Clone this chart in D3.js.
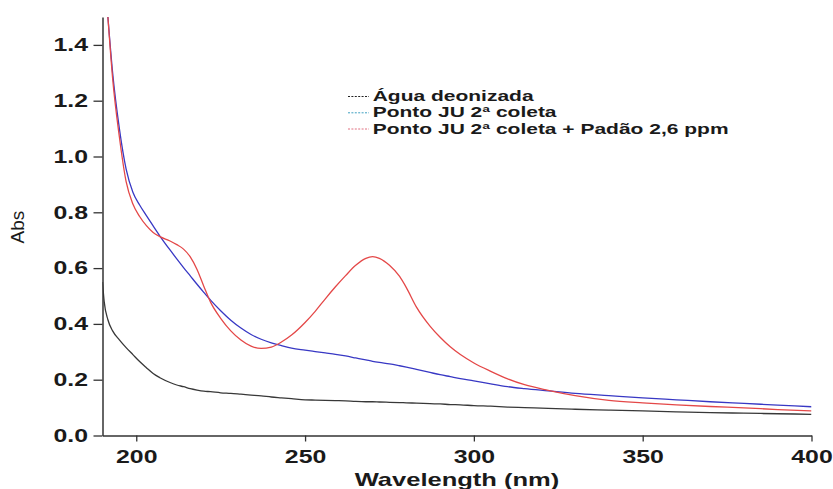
<!DOCTYPE html>
<html>
<head>
<meta charset="utf-8">
<script src="https://cdn.jsdelivr.net/npm/d3@7"></script>
<style>
  html, body { margin: 0; padding: 0; background: #fff; }
  svg { display: block; }
</style>
</head>
<body>
<svg id="chart" width="833" height="489"></svg>
<script>
// ---- data ----
const wavelength = [190, 190.5, 191.6, 193, 195, 197, 199, 201, 203, 205, 207, 210, 212, 214, 216, 218, 220, 222, 225, 228, 231, 234, 237, 240, 243, 246, 250, 253, 256, 259, 262, 265, 268, 270, 272, 275, 278, 280, 283, 287, 290, 293, 296, 300, 305, 310, 315, 322, 330, 340, 350, 360, 370, 380, 390, 400];

const aguaDeonizada = [0.55, 0.48, 0.415, 0.375, 0.343, 0.315, 0.29, 0.265, 0.243, 0.222, 0.207, 0.19, 0.181, 0.175, 0.168, 0.163, 0.159, 0.157, 0.153, 0.151, 0.148, 0.145, 0.142, 0.138, 0.135, 0.132, 0.128, 0.127, 0.126, 0.125, 0.124, 0.122, 0.121, 0.121, 0.12, 0.119, 0.118, 0.117, 0.116, 0.114, 0.113, 0.111, 0.11, 0.107, 0.105, 0.102, 0.1, 0.097, 0.094, 0.091, 0.088, 0.085, 0.082, 0.08, 0.078, 0.076];

const pontoJU = [null, null, 1.5, 1.3, 1.1, 0.955, 0.872, 0.826, 0.788, 0.751, 0.715, 0.665, 0.633, 0.602, 0.572, 0.542, 0.513, 0.485, 0.447, 0.413, 0.385, 0.362, 0.345, 0.332, 0.322, 0.313, 0.306, 0.301, 0.296, 0.291, 0.285, 0.278, 0.271, 0.266, 0.262, 0.257, 0.25, 0.245, 0.237, 0.226, 0.218, 0.211, 0.204, 0.196, 0.185, 0.175, 0.168, 0.16, 0.151, 0.143, 0.135, 0.128, 0.121, 0.115, 0.109, 0.103];

const pontoJUPadrao = [null, null, 1.5, 1.28, 1.07, 0.91, 0.83, 0.785, 0.752, 0.728, 0.713, 0.697, 0.684, 0.668, 0.64, 0.595, 0.535, 0.478, 0.42, 0.375, 0.342, 0.32, 0.312, 0.317, 0.335, 0.36, 0.405, 0.445, 0.49, 0.533, 0.573, 0.61, 0.635, 0.641, 0.635, 0.61, 0.57, 0.53, 0.46, 0.392, 0.352, 0.318, 0.29, 0.26, 0.23, 0.203, 0.182, 0.162, 0.143, 0.126, 0.117, 0.11, 0.104, 0.099, 0.093, 0.088];

const seriesNames = ["Água deonizada", "Ponto JU 2ª coleta", "Ponto JU 2ª coleta + Padão 2,6 ppm"];
const xTicks = [200, 250, 300, 350, 400];
const yTicks = [0.0, 0.2, 0.4, 0.6, 0.8, 1.0, 1.2, 1.4];

// ---- styling ----
const lineColors = ["#383838", "#3838c4", "#e44848"];
const legendColors = ["#222222", "#3fa0c0", "#e07080"];
const SX = 1.38; // horizontal stretch of the reference text

const svg = d3.select("#chart");
svg.append("rect").attr("width", 833).attr("height", 489).attr("fill", "#fff");

const x = d3.scaleLinear().domain([190, 400]).range([102.5, 811.5]);
const y = d3.scaleLinear().domain([0, 1.5]).range([435.5, 17]);

svg.append("defs").append("clipPath").attr("id", "plotclip")
  .append("rect").attr("x", x.range()[0]).attr("y", y.range()[1])
  .attr("width", x.range()[1] - x.range()[0]).attr("height", y.range()[0] - y.range()[1]);

const allSeries = [aguaDeonizada, pontoJU, pontoJUPadrao];
const line = d3.line()
  .defined(d => d[1] !== null)
  .x(d => x(d[0]))
  .y(d => y(d[1]))
  .curve(d3.curveMonotoneX);

const plot = svg.append("g").attr("clip-path", "url(#plotclip)");
allSeries.forEach((vals, i) => {
  plot.append("path")
    .datum(wavelength.map((w, k) => [w, vals[k]]))
    .attr("fill", "none")
    .attr("stroke", lineColors[i])
    .attr("stroke-width", 1.3)
    .attr("stroke-linejoin", "round")
    .attr("d", line);
});

// ---- axes ----
const fontFam = "'Liberation Sans', Arial, sans-serif";

const yAxis = svg.append("g")
  .attr("transform", `translate(${x.range()[0]},0)`)
  .call(d3.axisLeft(y).tickValues(yTicks).tickSize(9).tickSizeOuter(0).tickPadding(5.5).tickFormat(d3.format(".1f")));

const xAxis = svg.append("g")
  .attr("transform", `translate(0,${y.range()[0]})`)
  .call(d3.axisBottom(x).tickValues(xTicks).tickSize(6).tickSizeOuter(0).tickPadding(8.7).tickFormat(d3.format("d")));

[yAxis, xAxis].forEach(ax => {
  ax.select(".domain").attr("stroke", "#333").attr("stroke-width", 1.5);
  ax.selectAll(".tick line").attr("stroke", "#333").attr("stroke-width", 1.3);
  ax.selectAll(".tick text")
    .attr("fill", "#1a1a1a")
    .style("font-family", fontFam)
    .style("font-weight", "bold")
    .style("font-size", "18px");
});
yAxis.selectAll(".tick text").each(function() {
  const t = d3.select(this);
  const xv = +t.attr("x");
  t.attr("x", xv / SX).attr("transform", `scale(${SX},1)`);
});
xAxis.selectAll(".tick text").attr("transform", `scale(${SX},1)`);

// axis titles
svg.append("text")
  .attr("transform", `translate(457,486) scale(${SX},1)`)
  .attr("text-anchor", "middle")
  .style("font-family", fontFam)
  .style("font-weight", "bold")
  .style("font-size", "18.5px")
  .attr("fill", "#1a1a1a")
  .text("Wavelength (nm)");

svg.append("text")
  .attr("transform", "translate(23.5,227) rotate(-90)")
  .attr("text-anchor", "middle")
  .style("font-family", fontFam)
  .style("font-size", "19px")
  .attr("fill", "#1a1a1a")
  .text("Abs");

// ---- legend ----
const legendBase = [101, 117.3, 133.5];
const legend = svg.append("g");
seriesNames.forEach((name, i) => {
  legend.append("line")
    .attr("x1", 348).attr("x2", 369)
    .attr("y1", legendBase[i] - 4.5).attr("y2", legendBase[i] - 4.5)
    .attr("stroke", legendColors[i])
    .attr("stroke-width", 1)
    .attr("stroke-dasharray", "2,1.4");
  legend.append("text")
    .attr("transform", `translate(372.7,${legendBase[i]}) scale(1.4,1)`)
    .style("font-family", fontFam)
    .style("font-weight", "bold")
    .style("font-size", "15px")
    .attr("fill", "#1a1a1a")
    .text(name);
});
</script>
</body>
</html>
